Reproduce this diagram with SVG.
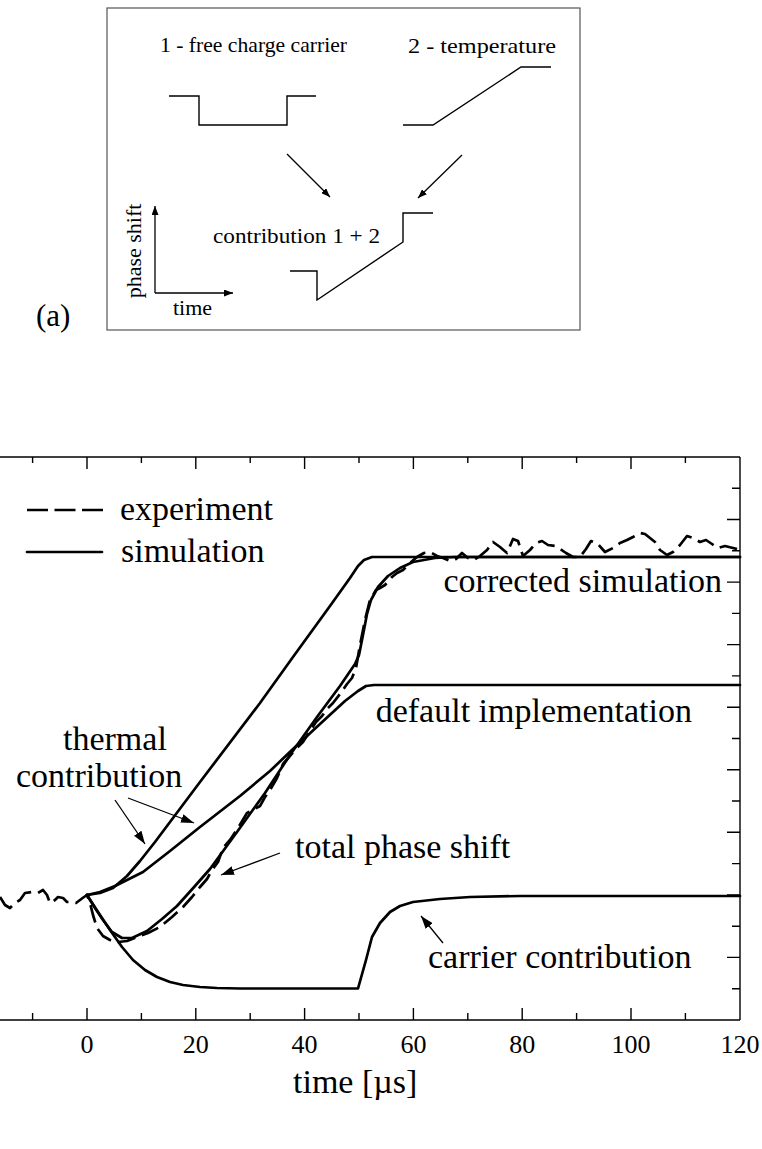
<svg xmlns="http://www.w3.org/2000/svg" width="762" height="1149" viewBox="0 0 762 1149" font-family="'Liberation Serif', 'Times New Roman', Tinos, 'DejaVu Serif', serif">
<defs>
<marker id="ahBig" markerUnits="userSpaceOnUse" markerWidth="13" markerHeight="9" refX="13" refY="4.5" orient="auto"><path d="M0,0 L13,4.5 L0,9 z" fill="#000"/></marker>
<marker id="ahSmall" markerUnits="userSpaceOnUse" markerWidth="9" markerHeight="7" refX="9" refY="3.5" orient="auto"><path d="M0,0 L9,3.5 L0,7 z" fill="#000"/></marker>
</defs>
<style>
text{font-family:'Liberation Serif','Times New Roman',Tinos,'DejaVu Serif',serif;fill:#000}
.lbl{font-size:34px}
.tick{font-size:26px;text-anchor:middle}
.inset{font-size:22px}
.ax{stroke:#000;stroke-width:1.4;fill:none}
.tk{stroke:#000;stroke-width:1.4}
.sim{stroke:#000;stroke-width:2.7;fill:none;stroke-linejoin:round;stroke-linecap:round}
.exp{stroke:#000;stroke-width:2.7;fill:none;stroke-dasharray:18 7;stroke-linejoin:round}
.ar{stroke:#000;stroke-width:1.3;fill:none}
.thin{stroke:#000;stroke-width:1.4;fill:none}
</style>

<g id="inset">
<rect x="107" y="8" width="473" height="322" fill="#fff" stroke="#555" stroke-width="1.2"/>
<text class="inset" x="160" y="52" textLength="187" lengthAdjust="spacingAndGlyphs">1 - free charge carrier</text>
<text class="inset" x="408" y="53" textLength="148" lengthAdjust="spacingAndGlyphs">2 - temperature</text>
<text class="inset" x="213" y="243" textLength="167" lengthAdjust="spacingAndGlyphs">contribution 1 + 2</text>
<text class="inset" x="173" y="315">time</text>
<text class="inset" transform="translate(141,251) rotate(-90)" text-anchor="middle">phase shift</text>
<polyline class="thin" points="169,96 199,96 199,125 287,125 287,96 316,96"/>
<polyline class="thin" points="403,125 433,125 521,67 551,67"/>
<polyline class="thin" points="290,271 317,271 317,300 403,242 403,213 433,213"/>
<line class="ar" x1="287" y1="154" x2="330" y2="197" marker-end="url(#ahSmall)"/>
<line class="ar" x1="462" y1="155" x2="418" y2="198" marker-end="url(#ahSmall)"/>
<line class="ar" x1="155" y1="293" x2="155" y2="206" marker-end="url(#ahSmall)"/>
<line class="ar" x1="155" y1="293" x2="233" y2="293" marker-end="url(#ahSmall)"/>
</g>
<text id="label-a" x="36" y="326" font-size="31">(a)</text>

<g id="axes">
<line class="ax" x1="0" y1="457" x2="740" y2="457"/>
<line class="ax" x1="0" y1="1020" x2="740" y2="1020"/>
<line class="ax" x1="740" y1="457" x2="740" y2="1020"/>
<path class="tk" d="M32.6,457v6 M87,457v12 M141.4,457v6 M195.8,457v12 M250.2,457v6 M304.6,457v12 M359,457v6 M413.4,457v12 M467.8,457v6 M522.2,457v12 M576.6,457v6 M631,457v12 M685.4,457v6"/>
<path class="tk" d="M32.6,1020v-7 M87,1020v-12 M141.4,1020v-7 M195.8,1020v-12 M250.2,1020v-7 M304.6,1020v-12 M359,1020v-7 M413.4,1020v-12 M467.8,1020v-7 M522.2,1020v-12 M576.6,1020v-7 M631,1020v-12 M685.4,1020v-7"/>
<path class="tk" d="M740,988.7h-8 M740,957.4h-13 M740,926.2h-8 M740,894.9h-13 M740,863.6h-8 M740,832.3h-13 M740,801h-8 M740,769.8h-13 M740,738.5h-8 M740,707.2h-13 M740,675.9h-8 M740,644.6h-13 M740,613.4h-8 M740,582.1h-13 M740,550.8h-8 M740,519.5h-13 M740,488.2h-8"/>
<text class="tick" x="87" y="1053">0</text>
<text class="tick" x="195.8" y="1053">20</text>
<text class="tick" x="304.6" y="1053">40</text>
<text class="tick" x="413.4" y="1053">60</text>
<text class="tick" x="522.2" y="1053">80</text>
<text class="tick" x="631" y="1053">100</text>
<text class="tick" x="740" y="1053">120</text>
<text class="lbl" x="293" y="1093">time [µs]</text>
</g>

<g id="legend">
<line x1="27" y1="510" x2="103" y2="510" stroke="#000" stroke-width="2.7" stroke-dasharray="21 6.5"/>
<line class="sim" x1="27" y1="552" x2="102" y2="552" stroke-linecap="butt"/>
<text class="lbl" x="120" y="520">experiment</text>
<text class="lbl" x="121" y="562">simulation</text>
</g>

<g id="curves">
<polyline id="thermal-corrected" class="sim" points="87,895 100,893 113,888 127,876 140,861 155,842 200,782 260,703 293,657 330,606 350,578 358,566 364,560 372,557 740,557"/>
<polyline id="thermal-default" class="sim" points="87,895 100,892 115,886 143,872 170,851 200,827 240,796 270,771 293,749 320,724 345,701 358,691 366,686 374,685 740,685"/>
<polyline id="total-corrected" class="sim" points="87,895 95,908 103,920 112,932 122,938 132,938 147,931 162,919 177,906 195,886 210,869 237,832 265,793 290,755 317,717 340,686 355,664 359,655 363,635 367,614 371,600 378,587 388,576 400,568 413,562 435,558 455,557 740,557"/>
<polyline id="carrier" class="sim" points="87,895 98,912 110,930 122,947 133,960 145,970 157,977 170,982 183,985 200,987 217,988 240,988.5 358,988.5 366,960 372,937 380,923 390,912 400,906 413,902 440,899 470,897 520,896 740,896"/>
<polyline id="experiment" class="exp" points="0,897 5,905 10,908 15,903 20,900 25,893 32,892 38,893 43,890 47,895 50,903 55,900 58,897 63,898 67,902 72,902 76,903 80,900 84,897 87,895 90,903 93,915 97,928 103,936 110,940 118,942 127,941 137,937 148,933 160,927 172,917 183,907 192,897 200,887 207,879 212,870 218,862 223,848 230,840 238,828 247,813 253,810 260,806 265,797 270,790 277,778 283,764 289,757 295,750 303,742 310,731 316,722 322,716 328,708 333,703 340,694 347,684 352,678 356,668 360,645 365,620 370,600 376,590 380,588 385,585 392,577 397,573 403,570 410,563 417,557 424,553 430,552 437,556 443,558 450,561 456,559 462,553 468,558 474,560 480,556 487,550 493,542 500,547 507,553 513,539 518,541 523,556 530,550 536,543 542,541 548,545 555,546 560,549 566,553 573,557 580,557 586,549 591,541 597,543 605,552 613,548 620,543 627,540 633,537 640,533 645,534 650,538 655,542 660,550 667,555 673,552 680,545 687,536 693,538 700,542 706,540 712,544 718,548 725,546 733,548 740,550"/>
</g>

<g id="annotations">
<text class="lbl" x="722" y="592" text-anchor="end">corrected simulation</text>
<text class="lbl" x="692" y="722" text-anchor="end">default implementation</text>
<text class="lbl" x="63" y="750">thermal</text>
<text class="lbl" x="16" y="787">contribution</text>
<text class="lbl" x="295" y="858">total phase shift</text>
<text class="lbl" x="428" y="968">carrier contribution</text>
<line class="ar" x1="115" y1="800" x2="145" y2="844" marker-end="url(#ahBig)"/>
<line class="ar" x1="128" y1="798" x2="194" y2="823" marker-end="url(#ahBig)"/>
<line class="ar" x1="280" y1="853" x2="221" y2="875" marker-end="url(#ahBig)"/>
<line class="ar" x1="443" y1="943" x2="421" y2="916" marker-end="url(#ahBig)"/>
</g>
</svg>
